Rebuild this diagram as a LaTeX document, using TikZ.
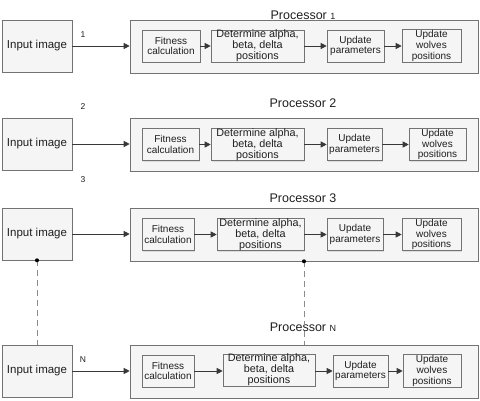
\documentclass[tikz,border=0pt]{standalone}
\usepackage{fontspec}
\setmainfont{Liberation Sans}
\usepackage{xcolor}
\usepackage{tikz}
\usetikzlibrary{arrows.meta,shadows}

\begin{document}
\begin{tikzpicture}[
  x=1pt,
  y=-1pt,
  >={Triangle[length=6pt,width=6pt]},
  flow/.style={->, line width=0.8pt, draw=black!78},
  link/.style={line width=0.7pt, dashed, dash pattern=on 6pt off 4pt, draw=black!45},
  dot/.style={circle, fill=black, inner sep=0pt, minimum size=4pt},
  box/.style={draw=black!55, fill=black!4, line width=0.6pt, align=center,
    inner sep=1pt, text=black!88,
    drop shadow={shadow xshift=1.2pt, shadow yshift=-1.2pt, opacity=0.2}},
  inbox/.style={box, minimum width=70pt, minimum height=52pt,
    font=\fontsize{11.5}{13}\selectfont},
  procbox/.style={box, minimum width=348pt, minimum height=53pt},
  stepbox/.style={box, minimum height=32pt, font=\fontsize{10}{10.6}\selectfont},
  detbox/.style={stepbox, inner sep=0pt, font=\fontsize{10.8}{10.8}\selectfont},
  title/.style={font=\fontsize{12.5}{14}\selectfont, text=black!88},
  numlabel/.style={font=\fontsize{8.5}{10}\selectfont, text=black!88}
]
\useasboundingbox (0,0) rectangle (480,401);

% Processor 1
\node[inbox] (in1) at (37,46) {Input image};
\node[procbox] (p1) at (304,46.5) {};
\node[title] (t1) at (303,15) {Processor {\fontsize{9}{10}\selectfont 1}};
\node[numlabel] (n1) at (83,35) {1};
\node[stepbox, minimum width=58pt] (f1) at (171,46) {Fitness\\calculation};
\node[detbox, minimum width=93pt] (d1) at (257.5,46) {Determine alpha,\\beta, delta\\positions};
\node[stepbox, minimum width=57pt] (u1) at (355.5,46) {Update\\parameters};
\node[stepbox, minimum width=59pt] (w1) at (431.5,46) {Update\\wolves\\positions};
\draw[flow] (in1) -- (p1.west |- in1.east);
\draw[flow] (f1) -- (d1);
\draw[flow] (d1) -- (u1);
\draw[flow] (u1) -- (w1);

% Processor 2
\node[inbox] (in2) at (37,144) {Input image};
\node[procbox] (p2) at (304,144.5) {};
\node[title] (t2) at (303,103) {Processor 2};
\node[numlabel] (n2) at (83,107) {2};
\node[stepbox, minimum width=57pt] (f2) at (170.5,144.5) {Fitness\\calculation};
\node[detbox, minimum width=93pt] (d2) at (257.5,144.5) {Determine alpha,\\beta, delta\\positions};
\node[stepbox, minimum width=55pt] (u2) at (354.5,144.5) {Update\\parameters};
\node[stepbox, minimum width=57pt] (w2) at (437.5,144.5) {Update\\wolves\\positions};
\draw[flow] (in2) -- (p2.west |- in2.east);
\draw[flow] (f2) -- (d2);
\draw[flow] (d2) -- (u2);
\draw[flow] (u2) -- (w2);

% Processor 3
\node[inbox] (in3) at (37,234) {Input image};
\node[procbox] (p3) at (304,234.5) {};
\node[title] (t3) at (303,198) {Processor 3};
\node[numlabel] (n3) at (83,180) {3};
\node[stepbox, minimum width=52pt] (f3) at (168,234.5) {Fitness\\calculation};
\node[detbox, minimum width=87pt] (d3) at (260.5,234.5) {Determine alpha,\\beta, delta\\positions};
\node[stepbox, minimum width=56pt] (u3) at (355,234.5) {Update\\parameters};
\node[stepbox, minimum width=59pt] (w3) at (431.5,234.5) {Update\\wolves\\positions};
\draw[flow] (in3) -- (p3.west |- in3.east);
\draw[flow] (f3) -- (d3);
\draw[flow] (d3) -- (u3);
\draw[flow] (u3) -- (w3);

% Processor N
\node[inbox] (inN) at (37,371) {Input image};
\node[procbox] (pN) at (304,371.5) {};
\node[title] (tN) at (303,327) {Processor {\fontsize{9}{10}\selectfont N}};
\node[numlabel] (nN) at (83,360) {N};
\node[stepbox, minimum width=52pt] (fN) at (168,371) {Fitness\\calculation};
\node[detbox, minimum width=92pt] (dN) at (269,370) {Determine alpha,\\beta, delta\\positions};
\node[stepbox, minimum width=55pt] (uN) at (360.5,371) {Update\\parameters};
\node[stepbox, minimum width=58pt] (wN) at (432,371) {Update\\wolves\\positions};
\draw[flow] (inN) -- (pN.west |- inN.east);
\draw[flow] (fN) -- (dN.west |- fN.east);
\draw[flow] (dN.east |- uN.west) -- (uN);
\draw[flow] (uN) -- (wN);

% Elided processors between 3 and N
\draw[link] (in3.south) -- (inN.north);
\draw[link] (p3.south) -- (pN.north);
\node[dot] (c1) at (in3.south) {};
\node[dot] (c2) at (p3.south) {};

\end{tikzpicture}
\end{document}
